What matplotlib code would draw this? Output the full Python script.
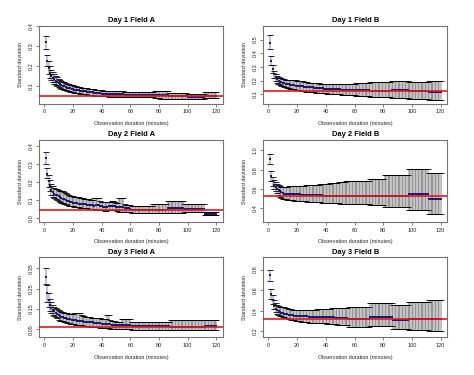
import numpy as np
import matplotlib
matplotlib.use("Agg")
import matplotlib.pyplot as plt

plt.rcParams['font.family'] = ['Liberation Sans', 'DejaVu Sans']

# observation duration (minutes), one estimate per minute
duration = np.arange(1, 121)

# ---- Day 1 Field A ----
mean_d1a = [
    .317, .222, .188, .165, .150, .140, .132, .124, .118, .113,
    .108, .104, .100, .097, .094, .091, .089, .087, .085, .083,
    .081, .080, .078, .077, .076, .075, .074, .073, .072, .071,
    .070, .069, .068, .067, .066, .065, .064, .063, .062, .061,
    .061, .060, .060, .060, .059, .059, .059, .058, .058, .058,
    .058, .057, .057, .057, .057, .056, .056, .056, .056, .056,
] + [.055] * 20 + [.056] * 6 + [.048] * 13 + [.046] * 12 + [.050] * 9
hi_d1a = [
    .350, .255, .222, .197, .180, .168, .158, .149, .142, .136,
    .130, .125, .121, .117, .114, .111, .108, .106, .104, .102,
    .100, .098, .096, .094, .093, .091, .090, .089, .088, .087,
    .086, .085, .084, .083, .082, .081, .080, .079, .078, .077,
    .076, .076, .075, .075, .074, .074, .074, .073, .073, .073,
    .073, .072, .072, .072, .072, .071, .071, .071, .071, .071,
] + [.070] * 16 + [.073] * 4 + [.076] * 6 + [.062] * 13 + [.060] * 12 + [.068] * 9
lo_d1a = [
    .283, .197, .160, .140, .128, .118, .110, .103, .098, .093,
    .089, .086, .083, .080, .077, .075, .073, .071, .069, .067,
    .066, .065, .063, .062, .061, .060, .059, .058, .057, .056,
    .055, .054, .053, .052, .051, .050, .050, .049, .049, .048,
    .048, .047, .047, .047, .046, .046, .046, .045, .045, .045,
    .045, .044, .044, .044, .044, .043, .043, .043, .043, .043,
] + [.042] * 16 + [.039] * 4 + [.036] * 6 + [.035] * 13 + [.033] * 12 + [.040] * 9

# ---- Day 1 Field B ----
mean_d1b = [
    .475, .343, .282, .245, .225, .210, .200, .193, .188, .184,
    .180, .177, .174, .172, .170, .168, .166, .165, .164, .163,
    .161, .160, .158, .157, .156, .155, .154, .153, .152, .151,
    .150, .149, .148, .147, .146, .145, .144, .143, .142, .141,
    .140, .139, .139, .138, .138, .137, .137, .136, .136, .136,
    .135, .135, .135, .134, .134, .134, .133, .133, .133, .133,
] + [.130] * 10 + [.126] * 15 + [.134] * 12 + [.123] * 14 + [.120] * 9
hi_d1b = [
    .530, .383, .312, .272, .250, .235, .226, .220, .216, .213,
    .210, .208, .206, .205, .204, .203, .202, .202, .201, .200,
    .199, .198, .196, .194, .192, .190, .188, .186, .185, .184,
    .183, .182, .181, .180, .179, .178, .178, .177, .177, .177,
    .177, .177, .177, .177, .177, .177, .177, .177, .177, .177,
    .176, .176, .176, .176, .176, .176, .176, .176, .176, .176,
] + [.180] * 10 + [.188] * 15 + [.198] * 12 + [.190] * 14 + [.200] * 9
lo_d1b = [
    .430, .312, .252, .218, .200, .186, .176, .168, .162, .157,
    .153, .150, .147, .144, .142, .140, .138, .136, .134, .132,
    .130, .128, .126, .124, .122, .120, .119, .118, .117, .116,
    .115, .114, .113, .112, .111, .110, .109, .108, .107, .106,
    .105, .104, .103, .102, .102, .101, .101, .100, .100, .099,
    .098, .097, .096, .095, .095, .094, .094, .093, .093, .093,
] + [.088] * 10 + [.080] * 15 + [.075] * 12 + [.068] * 14 + [.058] * 9

# ---- Day 2 Field A ----
mean_d2a = [
    .332, .242, .205, .178, .157, .142, .135, .130, .125, .120,
    .116, .112, .108, .104, .100, .097, .094, .091, .088, .085,
    .083, .082, .081, .080, .079, .078, .077, .076, .075, .074,
    .073, .072, .071, .070, .069, .070, .072, .070, .066, .064,
    .063, .062, .062, .063, .064, .065, .066, .066, .065, .062,
    .060, .059, .060, .061, .060, .056, .055, .054, .053, .052,
] + [.043] * 15 + [.046] * 10 + [.055] * 12 + [.051] * 14 + [.022] * 9
hi_d2a = [
    .367, .279, .238, .210, .188, .175, .168, .163, .160, .156,
    .152, .150, .148, .146, .140, .134, .128, .124, .121, .120,
    .118, .117, .116, .114, .112, .111, .110, .108, .106, .106,
    .104, .102, .100, .100, .110, .113, .113, .110, .095, .090,
    .088, .087, .087, .088, .090, .090, .092, .092, .090, .086,
    .085, .113, .113, .113, .113, .075, .074, .073, .073, .072,
] + [.064] * 15 + [.077] * 10 + [.095] * 12 + [.077] * 14 + [.033] * 9
lo_d2a = [
    .297, .220, .174, .150, .130, .117, .110, .105, .100, .095,
    .090, .086, .082, .078, .075, .072, .069, .067, .065, .064,
    .062, .061, .060, .059, .058, .057, .056, .055, .054, .053,
    .052, .051, .050, .049, .048, .047, .046, .045, .044, .043,
    .042, .041, .041, .042, .043, .044, .045, .045, .044, .042,
    .040, .033, .033, .033, .033, .033, .033, .033, .033, .033,
] + [.028] * 15 + [.028] * 10 + [.028] * 12 + [.033] * 14 + [.015] * 9

# ---- Day 2 Field B ----
mean_d2b = [
    .914, .730, .678, .643, .620, .600, .586, .574, .564, .556,
    .553, .551, .550, .549, .548, .547, .546, .546, .545, .545,
    .544, .543, .542, .541, .540, .540, .539, .538, .538, .537,
    .536, .535, .535, .534, .534, .533, .533, .532, .532, .531,
    .531, .531, .530, .530, .530, .530, .529, .529, .529, .529,
    .529, .528, .528, .528, .528, .528, .528, .528, .528, .528,
] + [.528] * 10 + [.530] * 10 + [.531] * 17 + [.545] * 14 + [.500] * 9
hi_d2b = [
    .962, .790, .720, .690, .670, .655, .640, .630, .625, .622,
    .622, .622, .624, .626, .628, .630, .632, .633, .633, .633,
    .632, .632, .633, .635, .636, .637, .638, .639, .640, .641,
    .642, .643, .644, .645, .646, .647, .648, .649, .650, .651,
    .653, .655, .657, .659, .661, .663, .665, .667, .669, .671,
    .673, .675, .677, .679, .680, .681, .682, .683, .684, .685,
] + [.686] * 10 + [.700] * 10 + [.740] * 17 + [.805] * 14 + [.765] * 9
lo_d2b = [
    .858, .685, .632, .600, .580, .560, .540, .520, .508, .497,
    .494, .491, .489, .487, .485, .483, .481, .479, .477, .476,
    .475, .474, .473, .472, .471, .470, .469, .468, .467, .466,
    .465, .464, .463, .462, .461, .460, .459, .459, .459, .459,
    .458, .457, .456, .455, .454, .453, .452, .451, .450, .449,
    .448, .447, .447, .446, .446, .445, .445, .445, .445, .445,
] + [.440] * 10 + [.430] * 10 + [.417] * 17 + [.380] * 14 + [.345] * 9

# ---- Day 3 Field A ----
mean_d3a = [
    .306, .226, .193, .170, .155, .145, .138, .131, .125, .120,
    .116, .112, .109, .106, .104, .102, .100, .098, .096, .095,
    .094, .093, .092, .091, .090, .089, .088, .087, .087, .086,
    .085, .084, .084, .083, .082, .081, .080, .080, .079, .078,
    .077, .076, .076, .078, .078, .074, .073, .072, .071, .070,
    .070, .070, .070, .071, .071, .070, .070, .070, .070, .070,
] + [.066] * 27 + [.062] * 24 + [.065] * 9
hi_d3a = [
    .350, .268, .226, .200, .182, .170, .160, .152, .148, .144,
    .140, .137, .134, .132, .130, .128, .127, .126, .126, .127,
    .128, .130, .130, .130, .130, .120, .117, .114, .112, .111,
    .110, .108, .107, .106, .105, .104, .103, .103, .103, .102,
    .102, .101, .100, .120, .120, .097, .092, .090, .088, .086,
    .086, .086, .086, .098, .098, .098, .098, .098, .098, .098,
] + [.086] * 27 + [.095] * 24 + [.095] * 9
lo_d3a = [
    .272, .182, .160, .142, .130, .122, .115, .110, .105, .095,
    .092, .090, .088, .086, .084, .082, .080, .078, .076, .075,
    .074, .073, .072, .071, .070, .069, .068, .067, .066, .065,
    .064, .063, .062, .062, .061, .060, .059, .059, .058, .058,
    .057, .056, .055, .054, .054, .053, .052, .051, .050, .050,
    .050, .050, .050, .050, .050, .050, .050, .050, .050, .050,
] + [.048] * 27 + [.045] * 24 + [.045] * 9

# ---- Day 3 Field B ----
mean_d3b = [
    .745, .560, .500, .450, .420, .405, .395, .387, .380, .375,
    .371, .367, .364, .361, .358, .356, .354, .352, .351, .350,
    .349, .348, .347, .346, .345, .344, .343, .342, .342, .341,
    .341, .340, .340, .340, .340, .340, .340, .340, .340, .340,
    .339, .338, .337, .336, .335, .334, .333, .332, .331, .330,
    .330, .330, .330, .330, .330, .316, .316, .316, .316, .316,
] + [.316] * 10 + [.340] * 16 + [.310] * 11 + [.322] * 14 + [.316] * 9
hi_d3b = [
    .800, .610, .550, .500, .470, .455, .445, .440, .438, .437,
    .435, .430, .425, .420, .415, .412, .410, .408, .406, .405,
    .405, .405, .406, .407, .408, .409, .410, .410, .410, .410,
    .410, .410, .411, .412, .413, .414, .415, .415, .415, .415,
    .416, .418, .420, .422, .424, .426, .428, .430, .430, .430,
    .430, .430, .430, .430, .430, .437, .437, .437, .437, .437,
] + [.437] * 10 + [.470] * 16 + [.453] * 11 + [.485] * 14 + [.500] * 9
lo_d3b = [
    .686, .510, .460, .420, .390, .372, .360, .350, .345, .340,
    .335, .330, .325, .320, .316, .312, .308, .305, .302, .300,
    .298, .296, .294, .292, .290, .288, .286, .284, .282, .280,
    .279, .278, .277, .276, .275, .275, .275, .275, .275, .275,
    .274, .273, .272, .271, .270, .268, .266, .264, .262, .260,
    .260, .260, .260, .260, .260, .240, .240, .240, .240, .240,
] + [.240] * 10 + [.250] * 16 + [.226] * 11 + [.210] * 14 + [.203] * 9

titles = ["Day 1 Field A", "Day 1 Field B", "Day 2 Field A",
          "Day 2 Field B", "Day 3 Field A", "Day 3 Field B"]
means = [mean_d1a, mean_d1b, mean_d2a, mean_d2b, mean_d3a, mean_d3b]
highs = [hi_d1a, hi_d1b, hi_d2a, hi_d2b, hi_d3a, hi_d3b]
lows = [lo_d1a, lo_d1b, lo_d2a, lo_d2b, lo_d3a, lo_d3b]
# overall standard deviation (red reference line)
overall_sd = [0.047, 0.123, 0.045, 0.525, 0.062, 0.315]

ylims = [(0.01, 0.40), (0.03, 0.60), (-0.022, 0.433),
         (0.257, 1.11), (0.011, 0.404), (0.142, 0.92)]
yticks = [[0.1, 0.2, 0.3, 0.4], [0.1, 0.2, 0.3, 0.4, 0.5],
          [0.0, 0.1, 0.2, 0.3, 0.4], [0.4, 0.6, 0.8, 1.0],
          [0.05, 0.15, 0.25, 0.35], [0.2, 0.4, 0.6, 0.8]]
ytick_fmt = ["{:.1f}", "{:.1f}", "{:.1f}", "{:.1f}", "{:.2f}", "{:.1f}"]

# axes boxes in figure fractions [left, bottom, width, height]
lefts = [0.082, 0.555]
rows = [(0.723, 0.208), (0.408, 0.219), (0.101, 0.213)]
cap_half = 2.1  # half width of error bar caps, in minutes

fig = plt.figure(figsize=(4.74, 3.75), dpi=100)

for i in range(6):
    r, c = divmod(i, 2)
    ax = fig.add_axes([lefts[c], rows[r][0], 0.389, rows[r][1]])
    m = np.array(means[i])
    lo = np.array(lows[i])
    hi = np.array(highs[i])
    # error bars (R arrows style) drawn by hand
    ax.vlines(duration, lo, hi, color='black', linewidth=0.34, zorder=1)
    ax.hlines(hi, duration - cap_half, duration + cap_half,
              color='black', linewidth=0.6, zorder=1)
    ax.hlines(lo, duration - cap_half, duration + cap_half,
              color='black', linewidth=0.6, zorder=1)
    ax.plot(duration, m, 's', color='#1a1a70', markersize=2.0,
            markeredgewidth=0, zorder=2)
    ax.axhline(overall_sd[i], color='#e8181c', linewidth=1.2, zorder=3)

    ax.set_xlim(-3.76, 124.76)
    ax.set_ylim(*ylims[i])
    ax.set_xticks([0, 20, 40, 60, 80, 100, 120])
    ax.set_yticks(yticks[i])
    ax.set_yticklabels([ytick_fmt[i].format(v) for v in yticks[i]],
                       rotation=90, va='center')
    ax.tick_params(labelsize=4.0, length=2, width=0.5, pad=2,
                   color='0.3', labelcolor='0.15')
    for s in ax.spines.values():
        s.set_color('0.45')
        s.set_linewidth(0.8)
    ax.set_title(titles[i], fontsize=5.4, fontweight='bold', pad=2.5)
    ax.set_xlabel("Observation duration (minutes)", fontsize=3.9,
                  labelpad=5, color='0.15')
    ax.set_ylabel("Standard deviation", fontsize=3.9, labelpad=4, color='0.15')

fig.savefig("out.png", dpi=100)
